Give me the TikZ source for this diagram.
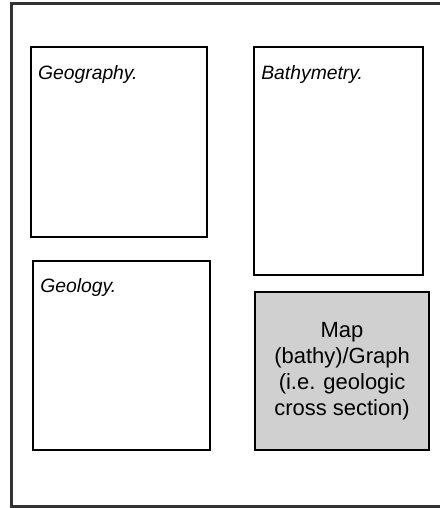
\documentclass[tikz,border=0pt]{standalone}
\usepackage{fontspec}
\setmainfont{Liberation Sans}
\usetikzlibrary{positioning}
\definecolor{PanelGray}{RGB}{208,208,208}
\definecolor{FrameGray}{RGB}{50,50,50}
\tikzset{
  panel/.style={draw=black,line width=1.2pt,fill=white,anchor=north west,
    inner sep=0pt},
  shaded/.style={panel,fill=PanelGray,align=center,
    font=\fontsize{12.5}{14.7}\selectfont},
  tag/.style={font=\fontsize{11}{13}\selectfont\itshape,anchor=base west,
    inner sep=0pt}
}

\begin{document}
\begin{tikzpicture}[x=0.02cm,y=-0.02cm]
      \useasboundingbox (0,0) rectangle (440,508);
      \clip (0,0) rectangle (440,508);
      % page frame, runs off to the right
      \draw[FrameGray,line width=1.2pt] (460,3.5) -- (11.5,3.5) -- (11.5,506.5) -- (460,506.5);
      \node[panel,minimum width=3.52cm,minimum height=3.8cm] (geog) at (30,46) {};
      \node[panel,minimum width=3.38cm,minimum height=4.56cm] (bathy) at (253,46) {};
      \node[panel,minimum width=3.54cm,minimum height=3.78cm] (geol) at (32,260) {};
      \node[shaded,minimum width=3.48cm,minimum height=3.16cm] (map) at (254,291)
        {Map\\(bathy)/Graph\\(i.e. geologic\\cross section)};
      \node[tag] (geoglabel) at ([shift={(7.7,33)}]geog.north west) {Geography.};
      \node[tag] (bathylabel) at ([shift={(8,33)}]bathy.north west) {Bathymetry.};
      \node[tag] (geollabel) at ([shift={(8,32)}]geol.north west) {Geology.};
    \end{tikzpicture}
\end{document}
